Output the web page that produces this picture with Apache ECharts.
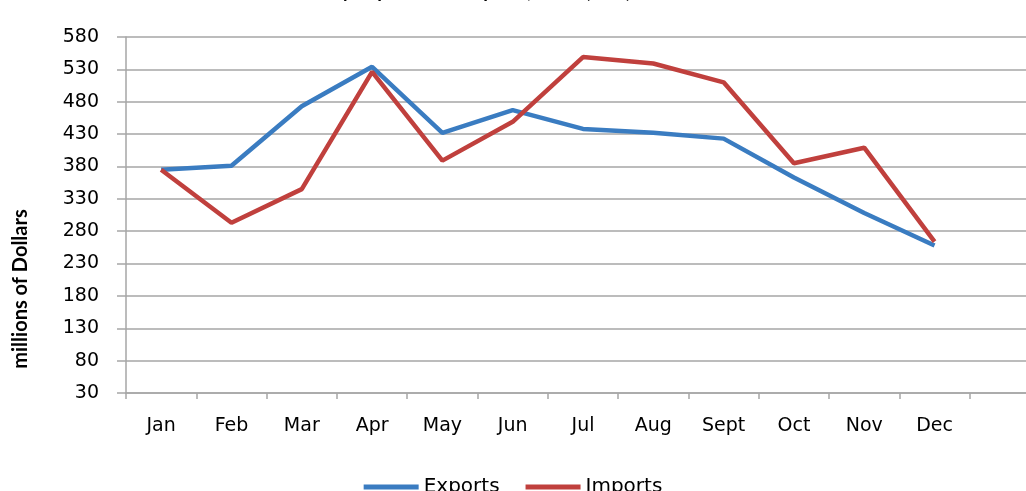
<!DOCTYPE html>
<html>
<head>
<meta charset="utf-8">
<script src="https://cdn.jsdelivr.net/npm/echarts@6/dist/echarts.min.js"></script>
<style>
  html, body { margin: 0; padding: 0; background: #fff; overflow: hidden; }
  #main { width: 1026px; height: 491px; }
</style>
</head>
<body>
<div id="main"></div>
<script>
// months (last slot is empty, the plot runs on past Dec)
var months = ['Jan', 'Feb', 'Mar', 'Apr', 'May', 'Jun', 'Jul', 'Aug', 'Sept', 'Oct', 'Nov', 'Dec', ''];
var exportsData = [375, 381, 473, 534, 432, 467, 438, 432, 423, 363, 308, 258];
var importsData = [375, 293, 345, 526, 389, 449, 549, 539, 510, 385, 409, 264];
var yMin = 30, yMax = 580, yStep = 50;

var myChart = echarts.init(document.getElementById('main'));

var grey = '#A6A6A6';
var labelFont = 'DejaVu Sans';

var option = {
  animation: false,
  title: {
    text: 'Monthly Exports and Imports, 2012 (US$)',
    left: 275,
    top: -22.5,
    textStyle: { fontFamily: 'Lato', fontWeight: 'bold', fontSize: 19, color: '#000' }
  },
  grid: { left: 126, right: -14, top: 37, bottom: 98, outerBoundsMode: 'none' },
  legend: {
    data: ['Exports', 'Imports'],
    left: 'center',
    top: 472,
    icon: 'rect',
    itemWidth: 55,
    itemHeight: 5,
    itemGap: 26,
    textStyle: { fontFamily: labelFont, fontSize: 20, color: '#000' }
  },
  graphic: [{
    type: 'text',
    x: 21,
    y: 289,
    rotation: Math.PI / 2,
    style: {
      text: 'millions of Dollars',
      fontFamily: 'Lato',
      fontWeight: 'bold',
      fontSize: 20,
      fill: '#000',
      align: 'center',
      verticalAlign: 'middle'
    }
  }],
  xAxis: {
    type: 'category',
    data: months,
    boundaryGap: true,
    axisLine: { lineStyle: { color: grey, width: 1.5 } },
    axisTick: { show: true, length: 6, lineStyle: { color: grey, width: 1.5 } },
    axisLabel: { margin: 24, fontFamily: labelFont, fontSize: 19, color: '#000' },
    splitLine: { show: false }
  },
  yAxis: {
    type: 'value',
    min: yMin,
    max: yMax,
    interval: yStep,
    axisLine: { show: true, lineStyle: { color: grey, width: 1.5 } },
    axisTick: { show: true, length: 9, lineStyle: { color: grey, width: 1.5 } },
    axisLabel: { margin: 27, fontFamily: labelFont, fontSize: 19, color: '#000' },
    splitLine: { show: true, lineStyle: { color: grey, width: 1.5 } }
  },
  series: [
    {
      name: 'Exports',
      type: 'line',
      data: exportsData,
      symbol: 'none',
      lineStyle: { color: '#3A7CC1', width: 4.5 },
      itemStyle: { color: '#3A7CC1' }
    },
    {
      name: 'Imports',
      type: 'line',
      data: importsData,
      symbol: 'none',
      lineStyle: { color: '#C0403D', width: 4.5 },
      itemStyle: { color: '#C0403D' }
    }
  ]
};

myChart.setOption(option);
</script>
</body>
</html>
